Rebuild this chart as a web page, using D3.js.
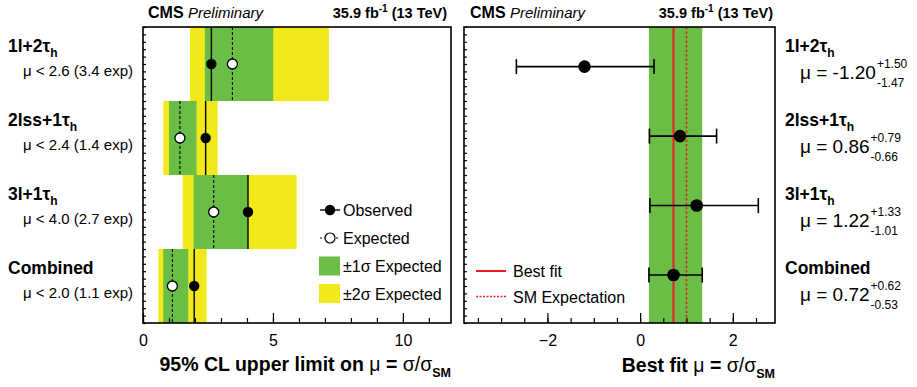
<!DOCTYPE html>
<html><head><meta charset="utf-8">
<script src="https://cdn.jsdelivr.net/npm/d3@7"></script>
<style>
body{margin:0;background:#fff;}
text{font-family:"Liberation Sans",Arial,Helvetica,sans-serif;}
</style></head>
<body><svg id="c" width="917" height="387"></svg>
<script>
// ---------------- data ----------------
const channels = ["1l+2τ", "2lss+1τ", "3l+1τ", "Combined"];
const channelSubs = ["h", "h", "h", ""];
const obsLimit = [2.63, 2.41, 4.04, 1.97];
const expLimit = [3.44, 1.42, 2.72, 1.13];
const band1Lo = [2.38, 1.00, 1.95, 0.78];
const band1Hi = [5.01, 2.06, 4.04, 1.74];
const band2Lo = [1.81, 0.78, 1.53, 0.59];
const band2Hi = [7.15, 2.87, 5.91, 2.45];
const bestFit = [-1.20, 0.86, 1.22, 0.72];
const errUp = [1.50, 0.79, 1.33, 0.62];
const errDn = [1.47, 0.66, 1.01, 0.53];
const smExpect = 1;
const leftTicksMajor = [0, 5, 10];
const rightTicksMajor = [-2, 0, 2];
const limitLegend = ["Observed", "Expected", "±1σ Expected", "±2σ Expected"];
const fitLegend = ["Best fit", "SM Expectation"];

// ---------------- setup ----------------
const svg = d3.select("#c");
const FONT = '"Liberation Sans",Arial,Helvetica,sans-serif';
const GREEN = "#6abd45", YELLOW = "#f1e91b", RED = "#ee1c24";
const yTop = 27, yBot = 323;

const xL = d3.scaleLinear().domain([0, 11.85]).range([143, 451]);
const yRow = d3.scaleBand().domain(d3.range(4)).range([yTop, yBot]);
const xR = d3.scaleLinear().domain([-3.8, 2.91]).range([464, 775]);
const yFit = d3.scaleLinear().domain([-0.57, 3.69]).range([yTop, yBot]);
const yTickScale = d3.scaleLinear().domain([0, 4]).range([yBot, yTop]);

// ---------------- left panel ----------------
const L = svg.append("g");
L.selectAll("rect.y2").data(d3.range(4)).join("rect")
  .attr("x", i => xL(band2Lo[i])).attr("width", i => xL(band2Hi[i]) - xL(band2Lo[i]))
  .attr("y", i => yRow(i)).attr("height", yRow.bandwidth()).attr("fill", YELLOW);
L.selectAll("rect.g1").data(d3.range(4)).join("rect")
  .attr("x", i => xL(band1Lo[i])).attr("width", i => xL(band1Hi[i]) - xL(band1Lo[i]))
  .attr("y", i => yRow(i)).attr("height", yRow.bandwidth()).attr("fill", GREEN);
L.selectAll("line.obs").data(d3.range(4)).join("line")
  .attr("x1", i => xL(obsLimit[i])).attr("x2", i => xL(obsLimit[i]))
  .attr("y1", i => yRow(i)).attr("y2", i => yRow(i) + yRow.bandwidth())
  .attr("stroke", "#000").attr("stroke-width", 1.4);
L.selectAll("line.exp").data(d3.range(4)).join("line")
  .attr("x1", i => xL(expLimit[i])).attr("x2", i => xL(expLimit[i]))
  .attr("y1", i => yRow(i)).attr("y2", i => yRow(i) + yRow.bandwidth())
  .attr("stroke", "#000").attr("stroke-width", 1.1).attr("stroke-dasharray", "3,2");
L.selectAll("circle.exp").data(d3.range(4)).join("circle")
  .attr("cx", i => xL(expLimit[i])).attr("cy", i => yRow(i) + yRow.bandwidth() / 2)
  .attr("r", 5).attr("fill", "#fff").attr("stroke", "#000").attr("stroke-width", 1.3);
L.selectAll("circle.obs").data(d3.range(4)).join("circle")
  .attr("cx", i => xL(obsLimit[i])).attr("cy", i => yRow(i) + yRow.bandwidth() / 2)
  .attr("r", 5.2).attr("fill", "#000");

function styleAxis(g) {
  g.select(".domain").remove();
  g.selectAll("line").attr("stroke", "#000").attr("stroke-width", 1.2);
  g.selectAll("text").attr("font-family", FONT).attr("font-size", 16).attr("fill", "#000");
}
L.append("g").attr("transform", `translate(0,${yBot})`)
  .call(d3.axisBottom(xL).tickValues(d3.range(0, 12)).tickSize(-5).tickFormat(""))
  .call(styleAxis);
L.append("g").attr("transform", `translate(0,${yBot})`)
  .call(d3.axisBottom(xL).tickValues(leftTicksMajor).tickSize(-10).tickPadding(12).tickFormat(d3.format("d")))
  .call(styleAxis);
L.append("g").attr("transform", `translate(${xL(0)},0)`)
  .call(d3.axisLeft(yTickScale).tickValues(d3.range(0, 4.001, 0.1)).tickSize(-3).tickFormat(""))
  .call(styleAxis);
L.append("rect").attr("x", xL(0)).attr("y", yTop).attr("width", xL(11.85) - xL(0)).attr("height", yBot - yTop)
  .attr("fill", "none").attr("stroke", "#000").attr("stroke-width", 1.6);

channels.forEach((c, i) => {
  const y0 = yRow(i);
  const t = svg.append("text").attr("x", 8).attr("y", y0 + 25).attr("font-size", 17.5).attr("font-weight", "bold");
  t.append("tspan").text(c);
  if (channelSubs[i]) t.append("tspan").attr("dy", 5).attr("font-size", 12).text(channelSubs[i]);
  svg.append("text").attr("x", 133).attr("y", y0 + 49).attr("text-anchor", "end").attr("font-size", 15)
    .text(`μ < ${obsLimit[i].toFixed(1)} (${expLimit[i].toFixed(1)} exp)`);
});

const lg = svg.append("g");
const legY = [210, 238, 266, 293.5];
lg.append("line").attr("x1", 320).attr("x2", 340).attr("y1", legY[0]).attr("y2", legY[0]).attr("stroke", "#000").attr("stroke-width", 1.4);
lg.append("circle").attr("cx", 330).attr("cy", legY[0]).attr("r", 5.2).attr("fill", "#000");
lg.append("line").attr("x1", 320).attr("x2", 340).attr("y1", legY[1]).attr("y2", legY[1]).attr("stroke", "#000").attr("stroke-width", 1).attr("stroke-dasharray", "2,2");
lg.append("circle").attr("cx", 330).attr("cy", legY[1]).attr("r", 5).attr("fill", "#fff").attr("stroke", "#000").attr("stroke-width", 1.2);
lg.append("rect").attr("x", 319).attr("y", legY[2] - 9.5).attr("width", 21).attr("height", 19).attr("fill", GREEN);
lg.append("rect").attr("x", 319).attr("y", legY[3] - 9.5).attr("width", 21).attr("height", 19).attr("fill", YELLOW);
limitLegend.forEach((s, i) => {
  lg.append("text").attr("x", 343).attr("y", legY[i] + 6).attr("font-size", 16).text(s);
});

// ---------------- right panel ----------------
const R = svg.append("g");
R.append("rect").attr("x", xR(bestFit[3] - errDn[3])).attr("width", xR(bestFit[3] + errUp[3]) - xR(bestFit[3] - errDn[3]))
  .attr("y", yTop).attr("height", yBot - yTop).attr("fill", GREEN);
R.append("line").attr("x1", xR(bestFit[3])).attr("x2", xR(bestFit[3])).attr("y1", yTop).attr("y2", yBot)
  .attr("stroke", RED).attr("stroke-width", 2);
R.append("line").attr("x1", xR(smExpect)).attr("x2", xR(smExpect)).attr("y1", yTop).attr("y2", yBot)
  .attr("stroke", RED).attr("stroke-width", 1.5).attr("stroke-dasharray", "2.5,2");
d3.range(4).forEach(i => {
  const y = yFit(i), lo = xR(bestFit[i] - errDn[i]), hi = xR(bestFit[i] + errUp[i]);
  R.append("line").attr("x1", lo).attr("x2", hi).attr("y1", y).attr("y2", y).attr("stroke", "#000").attr("stroke-width", 1.6);
  [lo, hi].forEach(x => R.append("line").attr("x1", x).attr("x2", x).attr("y1", y - 7.5).attr("y2", y + 7.5).attr("stroke", "#000").attr("stroke-width", 1.6));
  R.append("circle").attr("cx", xR(bestFit[i])).attr("cy", y).attr("r", 6.3).attr("fill", "#000");
});
R.append("g").attr("transform", `translate(0,${yBot})`)
  .call(d3.axisBottom(xR).tickValues(d3.range(-3.5, 2.91, 0.5)).tickSize(-5).tickFormat(""))
  .call(styleAxis);
R.append("g").attr("transform", `translate(0,${yBot})`)
  .call(d3.axisBottom(xR).tickValues(rightTicksMajor).tickSize(-10).tickPadding(12).tickFormat(d => d < 0 ? "−" + Math.abs(d) : d))
  .call(styleAxis);
R.append("g").attr("transform", `translate(${xR(-3.8)},0)`)
  .call(d3.axisLeft(yTickScale).tickValues(d3.range(0, 4.001, 0.1)).tickSize(-3).tickFormat(""))
  .call(styleAxis);
R.append("rect").attr("x", xR(-3.8)).attr("y", yTop).attr("width", xR(2.91) - xR(-3.8)).attr("height", yBot - yTop)
  .attr("fill", "none").attr("stroke", "#000").attr("stroke-width", 1.6);

R.append("line").attr("x1", 476).attr("x2", 506).attr("y1", 271).attr("y2", 271).attr("stroke", RED).attr("stroke-width", 2);
R.append("line").attr("x1", 476).attr("x2", 506).attr("y1", 296.5).attr("y2", 296.5).attr("stroke", RED).attr("stroke-width", 1.5).attr("stroke-dasharray", "2,1.5");
fitLegend.forEach((s, i) => R.append("text").attr("x", 513).attr("y", 271 + 25.5 * i + 6).attr("font-size", 16).text(s));

channels.forEach((c, i) => {
  const y0 = yRow(i);
  const t = svg.append("text").attr("x", 785).attr("y", y0 + 25).attr("font-size", 17.5).attr("font-weight", "bold");
  t.append("tspan").text(c);
  if (channelSubs[i]) t.append("tspan").attr("dy", 5).attr("font-size", 12).text(channelSubs[i]);
  const by = y0 + 52;
  const m = svg.append("text").attr("x", 800).attr("y", by).attr("font-size", 19)
    .text(`μ = ${bestFit[i].toFixed(2)}`);
  const w = m.node().getComputedTextLength();
  svg.append("text").attr("x", 800 + w + 1).attr("y", by - 11).attr("font-size", 12).text("+" + errUp[i].toFixed(2));
  svg.append("text").attr("x", 800 + w + 1).attr("y", by + 8).attr("font-size", 12).text("-" + errDn[i].toFixed(2));
});

function header(xs, xe) {
  const t = svg.append("text").attr("x", xs).attr("y", 18);
  t.append("tspan").attr("font-weight", "bold").attr("font-size", 16).text("CMS ");
  t.append("tspan").attr("font-style", "italic").attr("font-size", 15).text("Preliminary");
  const l = svg.append("text").attr("x", xe).attr("y", 18).attr("text-anchor", "end").attr("font-weight", "bold").attr("font-size", 14.5);
  l.append("tspan").text("35.9 fb");
  l.append("tspan").attr("dy", -6).attr("font-size", 10).text("-1");
  l.append("tspan").attr("dy", 6).text(" (13 TeV)");
}
header(148, 447);
header(470, 773);

function xtitle(xe, y, bold) {
  const t = svg.append("text").attr("x", xe).attr("y", y).attr("text-anchor", "end").attr("font-size", 19.5);
  t.append("tspan").attr("font-weight", "bold").text(bold);
  t.append("tspan").text("μ ");
  t.append("tspan").attr("font-weight", "bold").text("= ");
  t.append("tspan").text("σ/σ");
  t.append("tspan").attr("dy", 6).attr("font-size", 12.5).attr("font-weight", "bold").text("SM");
}
xtitle(451, 371, "95% CL upper limit on ");
xtitle(775, 372, "Best fit  ");
</script></body></html>
